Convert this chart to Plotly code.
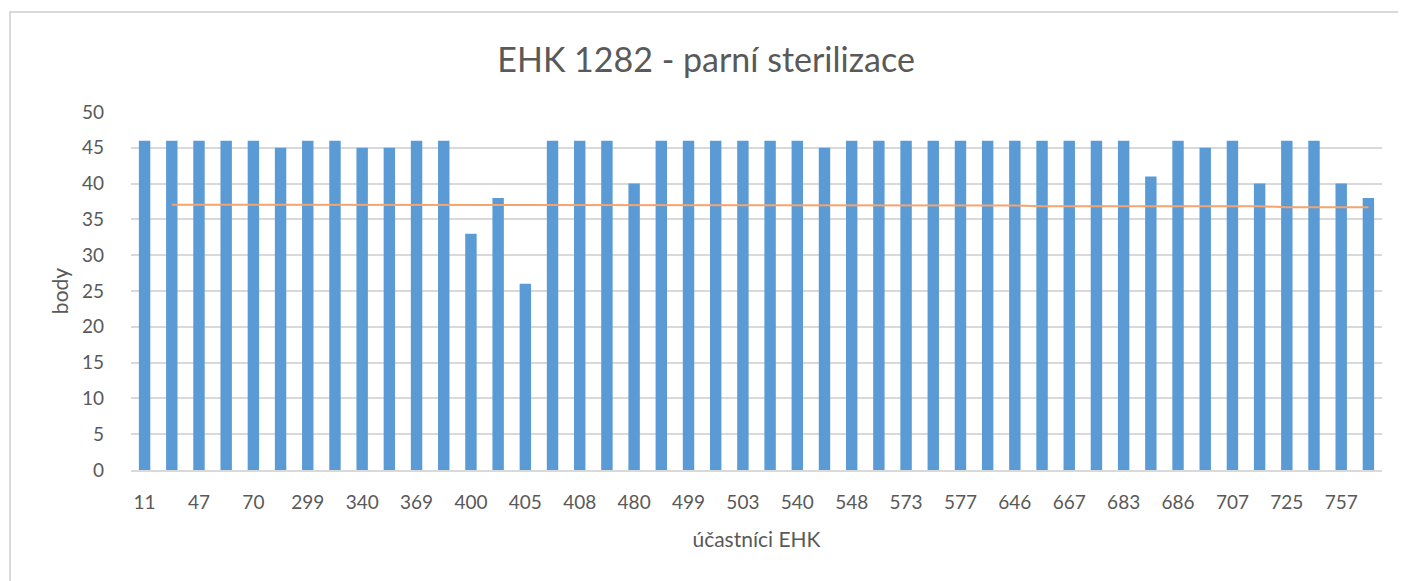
import plotly.graph_objects as go

# Participant IDs (every second one is labelled on the axis; hidden ones are estimates)
participants = ["11", "23", "47", "53", "70", "113", "299", "326", "340", "357",
                "369", "382", "400", "403", "405", "406", "408", "449", "480", "493",
                "499", "500", "503", "509", "540", "543", "548", "553", "573", "575",
                "577", "598", "646", "655", "667", "679", "683", "685", "686", "690",
                "707", "715", "725", "742", "757", "771"]

points = [46, 46, 46, 46, 46, 45, 46, 46, 45, 45,
          46, 46, 33, 38, 26, 46, 46, 46, 40, 46,
          46, 46, 46, 46, 46, 45, 46, 46, 46, 46,
          46, 46, 46, 46, 46, 46, 46, 41, 46, 45,
          46, 40, 46, 46, 40, 38]

# Orange reference line (starts at the 2nd participant)
line_participants = participants[1:]
line_values = [37.05] * 20 + [36.95] * 12 + [36.85] * 9 + [36.7] * 4

tick_labels = participants[::2]

FONT = "Lato"
GREY = "#595959"

fig = go.Figure()
fig.add_trace(go.Bar(x=participants, y=points, marker_color="#5B9BD5",
                     marker_line_width=0, width=0.42, showlegend=False))
fig.add_trace(go.Scatter(x=line_participants, y=line_values, mode="lines",
                         line=dict(color="#F4A46E", width=2), showlegend=False))

fig.update_layout(
    width=1406, height=581,
    margin=dict(l=123, r=32, t=104, b=119),
    paper_bgcolor="white", plot_bgcolor="white",
    title=dict(text="EHK 1282 - parní sterilizace", x=0.4965, xanchor="center",
               xref="container",
               y=0.911, yanchor="middle",
               font=dict(family=FONT, size=34, color=GREY)),
    font=dict(family=FONT, color=GREY),
    xaxis=dict(type="category", categoryorder="array", categoryarray=participants,
               tickmode="array", tickvals=tick_labels, ticktext=tick_labels,
               tickfont=dict(size=19, color=GREY), ticks="", showgrid=False,
               showline=True, linecolor="#D9D9D9", linewidth=1.5,
               ticklabelstandoff=14,
               range=[-0.5, len(participants) - 0.5],
               title=dict(text="účastníci EHK", font=dict(size=21, color=GREY), standoff=21)),
    yaxis=dict(range=[0, 50], dtick=5, tickfont=dict(size=19, color=GREY),
               showgrid=True, gridcolor="#D9D9D9", gridwidth=1.5, zeroline=False,
               ticks="", ticklabelstandoff=26,
               title=dict(text="body", font=dict(size=21, color=GREY), standoff=7)),
    shapes=[dict(type="rect", xref="paper", yref="paper",
                 x0=-0.0967, x1=1.05, y0=-0.4, y1=1.279,
                 line=dict(color="#D9D9D9", width=2), layer="below")],
)

fig.write_html("out.html")
